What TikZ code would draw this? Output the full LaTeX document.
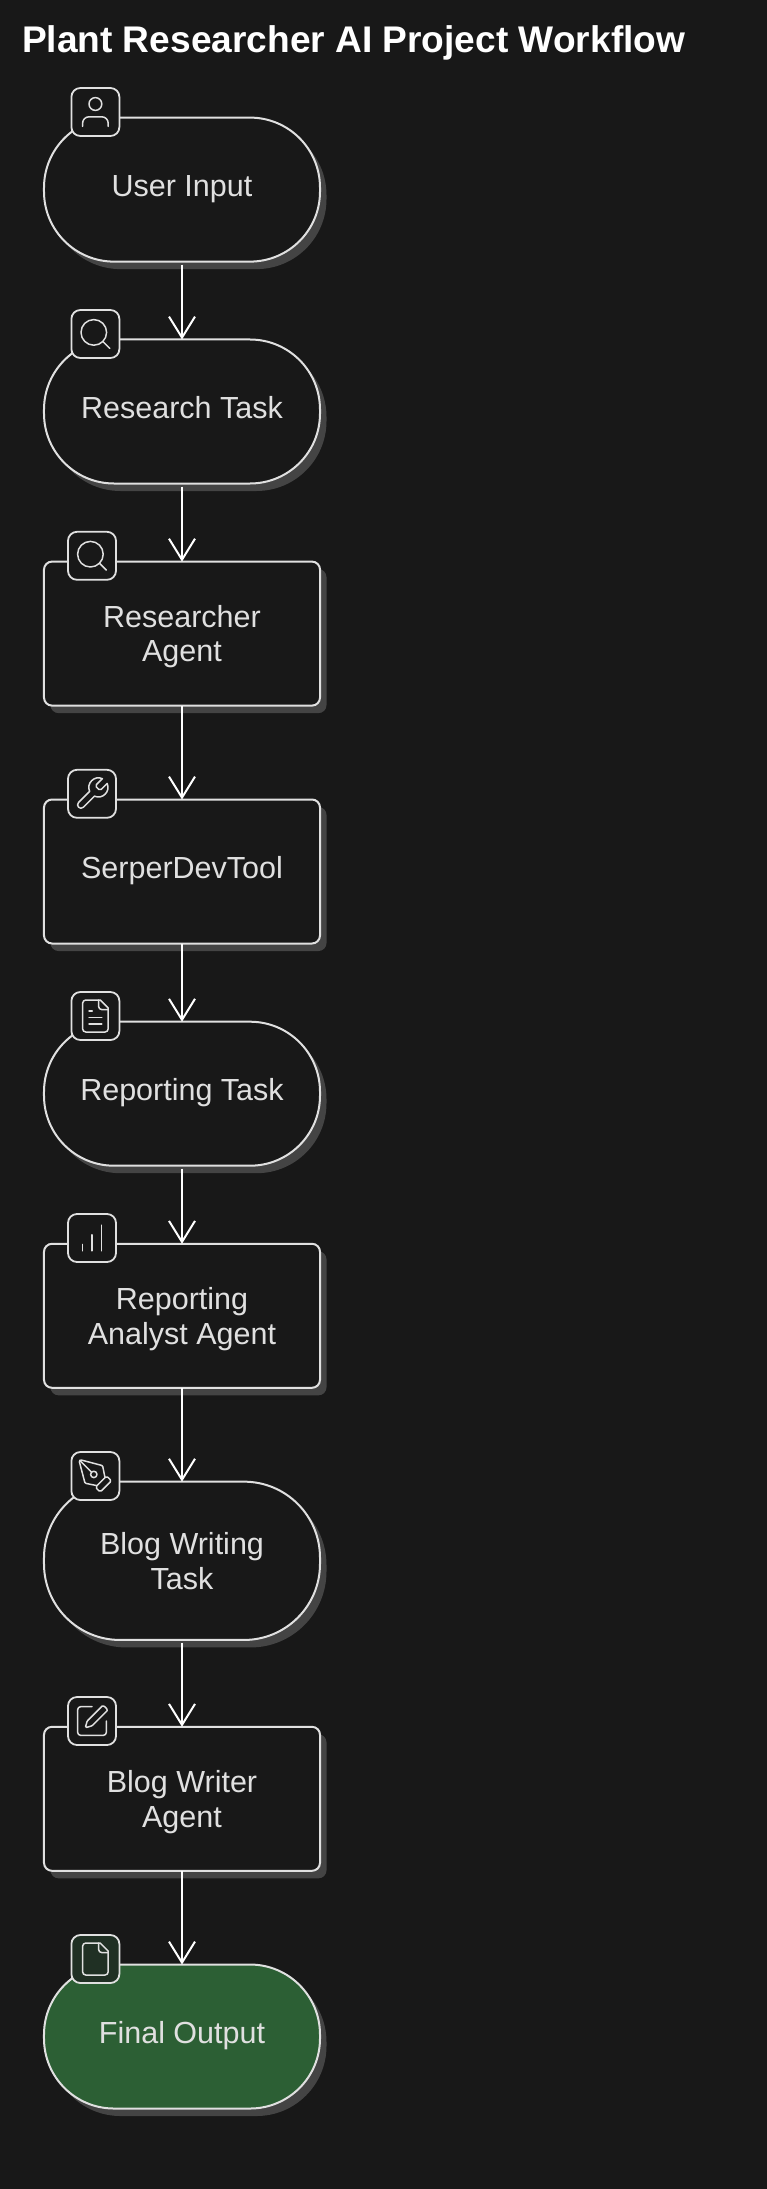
\documentclass[tikz,border=0pt]{standalone}
\usepackage{fontspec}
\setmainfont{Liberation Sans}
\usetikzlibrary{arrows.meta,shadows}
\definecolor{pdfcolor1}{RGB}{24,24,24}
\definecolor{pdfcolor2}{RGB}{224,224,224}
\definecolor{pdfcolor3}{RGB}{68,68,68}
\definecolor{pdfcolor4}{RGB}{44,95,52}
\definecolor{pdfcolor5}{RGB}{32,48,36}
\tikzset{
  stepshape/.style={draw=pdfcolor2,fill=pdfcolor1,line width=2bp,text=pdfcolor2,minimum width=276bp,align=center,
    font=\fontsize{30.5bp}{34.3bp}\selectfont,general shadow={fill=pdfcolor3,shadow xshift=6.5bp,shadow yshift=-7.5bp}},
  taskshape/.style={stepshape,rounded corners=70bp,minimum height=144bp},
  agentshape/.style={stepshape,rounded corners=8bp,minimum height=144bp},
  oneline/.style={text height=21bp,text depth=7bp},
  twoline/.style={text height=58bp,text depth=1.3bp},
  iconbox/.style={draw=pdfcolor2,fill=pdfcolor1,line width=1.8bp,rounded corners=9bp,minimum width=48bp,minimum height=48bp},
  linkarrow/.style={draw=white,line width=2bp,-{Straight Barb[length=21bp,width=26bp,line width=2bp]}},
  glyph/.style={draw=pdfcolor2,line width=1.5bp,line cap=round,line join=round,scale=1.6,shift={(-12,-12)}},
  glyphuser/.pic={
    \draw[glyph] (12,7) circle[radius=4];
    \draw[glyph] (20,21) -- (20,19) .. controls (20,16.8) and (18.2,15) .. (16,15) -- (8,15) .. controls (5.8,15) and (4,16.8) .. (4,19) -- (4,21);
  },
  glyphsearch/.pic={
    \draw[glyph] (11,11) circle[radius=8];
    \draw[glyph] (21,21) -- (16.65,16.65);
  },
  glyphwrench/.pic={
    \draw[glyph] (14.7,6.3) .. controls (14.3,6.7) and (14.3,7.3) .. (14.7,7.7) -- (16.3,9.3)
      .. controls (16.7,9.7) and (17.3,9.7) .. (17.7,9.3) -- (21.47,5.53)
      .. controls (23.73,10.53) and (18.53,15.73) .. (13.53,13.47) -- (6.62,20.38)
      .. controls (4.62,22.38) and (1.62,19.38) .. (3.62,17.38) -- (10.53,10.47)
      .. controls (8.27,5.47) and (13.47,0.27) .. (18.47,2.53) -- cycle;
  },
  glyphfile/.pic={
    \draw[glyph] (15,2) -- (6,2) .. controls (4.9,2) and (4,2.9) .. (4,4) -- (4,20) .. controls (4,21.1) and (4.9,22) .. (6,22)
      -- (18,22) .. controls (19.1,22) and (20,21.1) .. (20,20) -- (20,7) -- cycle;
    \draw[glyph] (14,2) -- (14,6) .. controls (14,7.1) and (14.9,8) .. (16,8) -- (20,8);
  },
  glyphfiletext/.pic={
    \pic {glyphfile};
    \draw[glyph] (10,9) -- (8,9);
    \draw[glyph] (16,13) -- (8,13);
    \draw[glyph] (16,17) -- (8,17);
  },
  glyphchart/.pic={
    \draw[glyph] (6,20) -- (6,16);
    \draw[glyph] (12,20) -- (12,10);
    \draw[glyph] (18,20) -- (18,4);
  },
  glyphpen/.pic={
    \draw[glyph] (15.71,21.29) .. controls (15.3,21.7) and (14.7,21.7) .. (14.29,21.29) -- (12.71,19.71)
      .. controls (12.3,19.3) and (12.3,18.7) .. (12.71,18.29) -- (18.29,12.71)
      .. controls (18.7,12.3) and (19.3,12.3) .. (19.71,12.71) -- (21.29,14.29)
      .. controls (21.7,14.7) and (21.7,15.3) .. (21.29,15.71) -- cycle;
    \draw[glyph] (18,13) -- (16.63,6.13) .. controls (16.55,5.75) and (16.25,5.45) .. (15.88,5.35) -- (3.24,2.03)
      .. controls (2.5,1.85) and (1.85,2.5) .. (2.03,3.24) -- (5.35,15.88)
      .. controls (5.45,16.25) and (5.75,16.55) .. (6.13,16.63) -- (13,18);
    \draw[glyph] (2.3,2.3) -- (9.59,9.59);
    \draw[glyph] (11,11) circle[radius=2];
  },
  glyphedit/.pic={
    \draw[glyph] (12,3) -- (5,3) .. controls (3.9,3) and (3,3.9) .. (3,5) -- (3,19) .. controls (3,20.1) and (3.9,21) .. (5,21)
      -- (19,21) .. controls (20.1,21) and (21,20.1) .. (21,19) -- (21,12);
    \draw[glyph] (18.38,2.63) .. controls (19.2,1.8) and (22.2,4.8) .. (21.38,5.63) -- (12.36,14.64)
      .. controls (12.12,14.88) and (11.83,15.05) .. (11.51,15.14) -- (8.64,15.98)
      .. controls (8.25,16.1) and (7.9,15.75) .. (8.02,15.36) -- (8.86,12.49)
      .. controls (8.95,12.17) and (9.12,11.88) .. (9.37,11.64) -- cycle;
  },
}

\begin{document}
\begin{tikzpicture}[x=1bp,y=-1bp,inner sep=0pt,outer sep=0pt]
  \useasboundingbox (0,0) rectangle (766,2189);
  \fill[fill=pdfcolor1] (-2,-2) rectangle (768,2191);
  \node[anchor=base west,text=white] (title) at (22,53) {{\fontsize{37.1bp}{44bp}\selectfont \textbf{Plant Researcher AI Project Workflow}}};
  % steps
  \node[taskshape,oneline] (userinput) at (182,189.6) {User Input};
  \node[taskshape,oneline] (researchtask) at (182,411.5) {Research Task};
  \node[agentshape,twoline] (researcheragent) at (182,633.6) {Researcher\\Agent};
  \node[agentshape,oneline] (serpertool) at (182,871.5) {SerperDevTool};
  \node[taskshape,oneline] (reportingtask) at (182,1093.7) {Reporting Task};
  \node[agentshape,twoline] (analystagent) at (182,1315.8) {Reporting\\Analyst Agent};
  \node[taskshape,twoline,rounded corners=76bp,minimum height=158.3bp] (blogtask) at (182,1560.8) {Blog Writing\\Task};
  \node[agentshape,twoline] (writeragent) at (182,1798.8) {Blog Writer\\Agent};
  \node[taskshape,oneline,fill=pdfcolor4] (finaloutput) at (182,2036.5) {Final Output};
  % links
  \draw[linkarrow,shorten <=3bp] (userinput.south) -- (researchtask.north);
  \draw[linkarrow,shorten <=3bp] (researchtask.south) -- (researcheragent.north);
  \draw[linkarrow] (researcheragent.south) -- (serpertool.north);
  \draw[linkarrow] (serpertool.south) -- (reportingtask.north);
  \draw[linkarrow,shorten <=3bp] (reportingtask.south) -- (analystagent.north);
  \draw[linkarrow] (analystagent.south) -- (blogtask.north);
  \draw[linkarrow,shorten <=3bp] (blogtask.south) -- (writeragent.north);
  \draw[linkarrow] (writeragent.south) -- (finaloutput.north);
  % icons
  \node[iconbox] (iconuser) at (95.4,112) {};
  \node[iconbox] (iconresearch) at (95.4,334) {};
  \node[iconbox] (iconagent) at (92,555.8) {};
  \node[iconbox] (icontool) at (92,793.8) {};
  \node[iconbox] (iconreport) at (95.4,1016) {};
  \node[iconbox] (iconchart) at (92,1238) {};
  \node[iconbox] (iconpen) at (95.4,1476) {};
  \node[iconbox] (iconedit) at (92,1721) {};
  \node[iconbox,fill=pdfcolor5] (iconfile) at (95.4,1959) {};
  \pic at (iconuser) {glyphuser};
  \pic at (iconresearch) {glyphsearch};
  \pic at (iconagent) {glyphsearch};
  \pic at (icontool) {glyphwrench};
  \pic at (iconreport) {glyphfiletext};
  \pic at (iconchart) {glyphchart};
  \pic at (iconpen) {glyphpen};
  \pic at (iconedit) {glyphedit};
  \pic at (iconfile) {glyphfile};
\end{tikzpicture}
\end{document}
